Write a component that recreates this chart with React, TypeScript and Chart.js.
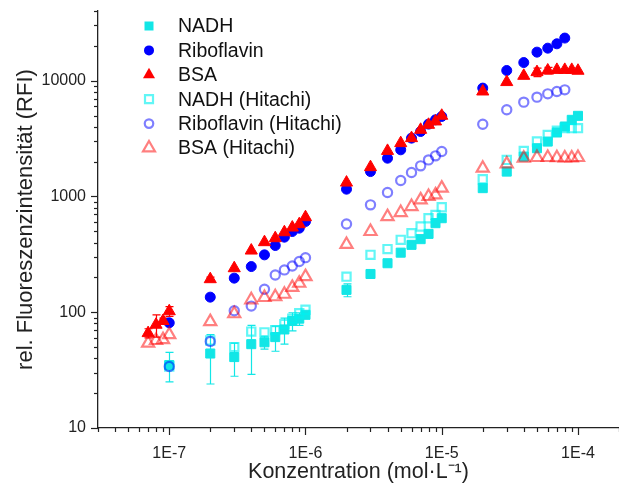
import React, { useEffect, useRef } from 'react';
import { Chart, registerables } from 'chart.js';

Chart.register(...registerables);

const FONT = "'Liberation Sans', Arial, Helvetica, sans-serif";

// ---------- data ----------
const concBSA = [7e-8, 8e-8, 9e-8, 1e-7, 2e-7, 3e-7, 4e-7, 5e-7, 6e-7, 7e-7, 8e-7, 9e-7, 1e-6, 2e-6, 3e-6, 4e-6, 5e-6, 6e-6, 7e-6, 8e-6, 9e-6, 1e-5, 2e-5, 3e-5, 4e-5, 5e-5, 6e-5, 7e-5, 8e-5, 9e-5, 1e-4];
const concNADH = [1e-7, 2e-7, 3e-7, 4e-7, 5e-7, 6e-7, 7e-7, 8e-7, 9e-7, 1e-6, 2e-6, 3e-6, 4e-6, 5e-6, 6e-6, 7e-6, 8e-6, 9e-6, 1e-5, 2e-5, 3e-5, 4e-5, 5e-5, 6e-5, 7e-5, 8e-5, 9e-5, 1e-4];
const concRibo = [1e-7, 2e-7, 3e-7, 4e-7, 5e-7, 6e-7, 7e-7, 8e-7, 9e-7, 1e-6, 2e-6, 3e-6, 4e-6, 5e-6, 6e-6, 7e-6, 8e-6, 9e-6, 1e-5, 2e-5, 3e-5, 4e-5, 5e-5, 6e-5, 7e-5, 8e-5];

const nadh = [35, 44, 41, 53, 55, 61, 71, 84, 88, 95, 156, 214, 265, 327, 382, 428, 475, 588, 649, 1180, 1640, 2210, 2610, 2980, 3570, 4020, 4590, 4970];
const nadhErr = [10, 20, 13, 24, 7, 15, 18, 15, 11, 6, 20, 0, 0, 0, 0, 0, 0, 0, 0, 0, 0, 0, 0, 0, 0, 0, 0, 0];
const ribo = [81, 135, 197, 248, 313, 377, 445, 498, 532, 608, 1156, 1641, 2141, 2529, 3191, 3640, 4217, 4592, 4910, 8630, 12250, 14350, 17650, 19100, 20830, 23350];
const bsa = [66, 78, 84, 102, 193, 240, 341, 403, 436, 491, 539, 576, 662, 1318, 1791, 2476, 2889, 3191, 3767, 4159, 4446, 4979, 8070, 9730, 11020, 11860, 12250, 12400, 12400, 12400, 12190];
const bsaErr = [6, 17, 5, 10, 8, 0, 0, 0, 0, 0, 0, 0, 0, 0, 0, 0, 0, 0, 0, 0, 0, 0, 0, 0, 0, 1000, 800, 0, 0, 0, 0];
const nadhH = [34, 57, 50, 68, 67, 70, 79, 88, 98, 105, 203, 313, 351, 422, 482, 550, 649, 693, 807, 1410, 2070, 2475, 2980, 3400, 3690, 3890, 3890, 3890];
const riboH = [34, 56, 103, 113, 158, 210, 232, 251, 274, 296, 579, 846, 1081, 1372, 1609, 1838, 2070, 2242, 2443, 4210, 5610, 6530, 7210, 7700, 8070, 8340];
const bsaH = [54, 57, 58, 64, 83, 97, 128, 134, 136, 143, 164, 178, 203, 385, 498, 670, 726, 818, 935, 999, 1032, 1180, 1755, 1913, 2140, 2170, 2170, 2160, 2150, 2150, 2170];

const xMajorTicks = [1e-7, 1e-6, 1e-5, 1e-4];
const xTickLabels = ['1E-7', '1E-6', '1E-5', '1E-4'];
const yMajorTicks = [10, 100, 1000, 10000];
const yTickLabels = ['10', '100', '1000', '10000'];
const xTitle = 'Konzentration (mol·L⁻¹)';
const yTitle = 'rel. Fluoreszenzintensität (RFI)';

const X_MIN = 3e-8;
const X_MAX = 2e-4;
const Y_MIN = 10;
const Y_MAX = 4e4;

const C_NADH = '#12E6E6';
const C_RIBO = '#0000FF';
const C_BSA = '#FF0000';
const C_NADH_H = 'rgba(0,240,240,0.62)';
const C_RIBO_H = 'rgba(0,0,255,0.5)';
const C_BSA_H = 'rgba(255,0,0,0.5)';

type Series = {
  label: string;
  x: number[];
  y: number[];
  err?: number[];
  style: 'rect' | 'circle' | 'triangle';
  color: string;
  filled: boolean;
  radius: number;
  order: number;
};

const seriesList: Series[] = [
  { label: 'NADH', x: concNADH, y: nadh, err: nadhErr, style: 'rect', color: C_NADH, filled: true, radius: 6.4, order: 6 },
  { label: 'Riboflavin', x: concRibo, y: ribo, style: 'circle', color: C_RIBO, filled: true, radius: 5, order: 5 },
  { label: 'BSA', x: concBSA, y: bsa, err: bsaErr, style: 'triangle', color: C_BSA, filled: true, radius: 7, order: 4 },
  { label: 'NADH (Hitachi)', x: concNADH, y: nadhH, style: 'rect', color: C_NADH_H, filled: false, radius: 5.8, order: 3 },
  { label: 'Riboflavin (Hitachi)', x: concRibo, y: riboH, style: 'circle', color: C_RIBO_H, filled: false, radius: 4.6, order: 2 },
  { label: 'BSA (Hitachi)', x: concBSA, y: bsaH, style: 'triangle', color: C_BSA_H, filled: false, radius: 7, order: 1 },
];

function logTicks(min: number, max: number) {
  const out: { value: number }[] = [];
  const e0 = Math.floor(Math.log10(min));
  const e1 = Math.ceil(Math.log10(max));
  for (let e = e0; e <= e1; e++) {
    for (let m = 1; m <= 9; m++) {
      const v = m * Math.pow(10, e);
      if (v >= min * 0.9999 && v <= max * 1.0001) out.push({ value: v });
    }
  }
  return out;
}

function majorIndex(v: number, majors: number[]) {
  return majors.findIndex((m) => Math.abs(v / m - 1) < 1e-6);
}

function drawMarker(ctx: CanvasRenderingContext2D, style: string, x: number, y: number, size: number, color: string, filled: boolean) {
  ctx.save();
  ctx.beginPath();
  if (style === 'rect') {
    const h = size / 2;
    ctx.rect(x - h, y - h, size, size);
  } else if (style === 'circle') {
    ctx.arc(x, y, size / 2, 0, Math.PI * 2);
  } else {
    const r = size / Math.sqrt(3);
    ctx.moveTo(x, y - r);
    ctx.lineTo(x + size / 2, y + r / 2);
    ctx.lineTo(x - size / 2, y + r / 2);
    ctx.closePath();
  }
  if (filled) {
    ctx.fillStyle = color;
    ctx.fill();
  } else {
    ctx.strokeStyle = color;
    ctx.lineWidth = 2.2;
    ctx.stroke();
  }
  ctx.restore();
}

const errorBarPlugin = {
  id: 'errorBars',
  beforeDatasetsDraw(chart: any) {
    const { ctx } = chart;
    const xs = chart.scales.x;
    const ys = chart.scales.y;
    ctx.save();
    seriesList.forEach((s) => {
      if (!s.err) return;
      ctx.strokeStyle = s.color;
      ctx.lineWidth = 1.2;
      s.y.forEach((v, i) => {
        const e = s.err![i];
        if (!e) return;
        const px = Math.round(xs.getPixelForValue(s.x[i])) + 0.5;
        const top = ys.getPixelForValue(v + e);
        const bot = ys.getPixelForValue(Math.max(v - e, 0.001));
        ctx.beginPath();
        ctx.moveTo(px, top);
        ctx.lineTo(px, bot);
        ctx.moveTo(px - 4, top);
        ctx.lineTo(px + 4, top);
        ctx.moveTo(px - 4, bot);
        ctx.lineTo(px + 4, bot);
        ctx.stroke();
      });
    });
    ctx.restore();
  },
};

const tickMarkPlugin = {
  id: 'tickMarks',
  afterDraw(chart: any) {
    const { ctx, chartArea } = chart;
    const xs = chart.scales.x;
    const ys = chart.scales.y;
    ctx.save();
    ctx.strokeStyle = '#222';
    ctx.lineWidth = 1.2;
    xs.ticks.forEach((t: any) => {
      const px = Math.round(xs.getPixelForValue(t.value)) + 0.5;
      const len = majorIndex(t.value, xMajorTicks) >= 0 ? 7 : 4;
      ctx.beginPath();
      ctx.moveTo(px, chartArea.bottom);
      ctx.lineTo(px, chartArea.bottom + len);
      ctx.stroke();
    });
    ys.ticks.forEach((t: any) => {
      const py = Math.round(ys.getPixelForValue(t.value)) + 0.5;
      const len = majorIndex(t.value, yMajorTicks) >= 0 ? 7 : 4;
      ctx.beginPath();
      ctx.moveTo(chartArea.left, py);
      ctx.lineTo(chartArea.left - len, py);
      ctx.stroke();
    });
    // axis titles
    ctx.fillStyle = '#222';
    ctx.textAlign = 'center';
    ctx.textBaseline = 'middle';
    ctx.font = `21.5px ${FONT}`;
    ctx.fillText(xTitle, (chartArea.left + chartArea.right) / 2, 472);
    ctx.save();
    ctx.translate(26, (chartArea.top + chartArea.bottom) / 2);
    ctx.rotate(-Math.PI / 2);
    ctx.font = `22px ${FONT}`;
    ctx.fillText(yTitle, 0, 0);
    ctx.restore();
    ctx.restore();
  },
};

const legendPlugin = {
  id: 'customLegend',
  afterDraw(chart: any) {
    const { ctx } = chart;
    ctx.save();
    ctx.font = `19.5px ${FONT}`;
    ctx.fillStyle = '#111';
    ctx.textBaseline = 'middle';
    ctx.textAlign = 'left';
    seriesList.forEach((s, i) => {
      const y = 26 + i * 24.4;
      const size = s.style === 'triangle' ? 12 : s.style === 'circle' ? (s.filled ? 10 : 8.5) : (s.filled ? 9 : 8);
      drawMarker(ctx, s.style, 149, y, size, s.color, s.filled);
      ctx.fillText(s.label, 178, y + 1);
    });
    ctx.restore();
  },
};

function zeroPadding(scale: any) {
  scale.paddingTop = 0;
  scale.paddingBottom = 0;
  scale.paddingLeft = 0;
  scale.paddingRight = 0;
}

export default function App() {
  const canvasRef = useRef<HTMLCanvasElement | null>(null);

  useEffect(() => {
    const canvas = canvasRef.current;
    if (!canvas) return;
    const datasets = seriesList.map((s) => ({
      label: s.label,
      data: s.x.map((xv, i) => ({ x: xv, y: s.y[i] })),
      showLine: false,
      pointStyle: s.style,
      pointRadius: s.radius,
      pointHoverRadius: s.radius,
      pointBackgroundColor: s.filled ? s.color : 'rgba(0,0,0,0)',
      pointBorderColor: s.color,
      pointBorderWidth: s.filled ? 1 : 2.2,
      order: s.order,
    }));

    const chart = new Chart(canvas, {
      type: 'scatter',
      data: { datasets },
      plugins: [errorBarPlugin, tickMarkPlugin, legendPlugin],
      options: {
        animation: false,
        responsive: true,
        maintainAspectRatio: false,
        devicePixelRatio: 1,
        layout: { autoPadding: false, padding: { top: 11, right: 0, left: 0, bottom: 0 } },
        plugins: { legend: { display: false }, tooltip: { enabled: false } },
        scales: {
          x: {
            type: 'logarithmic',
            min: X_MIN,
            max: X_MAX,
            afterBuildTicks: (scale: any) => {
              scale.ticks = logTicks(X_MIN, X_MAX);
            },
            afterFit: (scale: any) => {
              scale.height = 66;
              zeroPadding(scale);
            },
            grid: { display: false, drawTicks: false },
            border: { display: true, color: '#222', width: 1.3 },
            ticks: {
              autoSkip: false,
              maxRotation: 0,
              padding: 16,
              color: '#222',
              font: { family: FONT, size: 16 },
              callback: (v: any) => {
                const i = majorIndex(Number(v), xMajorTicks);
                return i >= 0 ? xTickLabels[i] : '';
              },
            },
            title: { display: false },
          },
          y: {
            type: 'logarithmic',
            min: Y_MIN,
            max: Y_MAX,
            afterBuildTicks: (scale: any) => {
              scale.ticks = logTicks(Y_MIN, Y_MAX);
            },
            afterFit: (scale: any) => {
              scale.width = 98;
              zeroPadding(scale);
            },
            grid: { display: false, drawTicks: false },
            border: { display: true, color: '#222', width: 1.3 },
            ticks: {
              autoSkip: false,
              padding: 12,
              color: '#222',
              font: { family: FONT, size: 16 },
              callback: (v: any) => {
                const i = majorIndex(Number(v), yMajorTicks);
                return i >= 0 ? yTickLabels[i] : '';
              },
            },
            title: { display: false },
          },
        },
      },
    });
    return () => chart.destroy();
  }, []);

  return (
    <div style={{ position: 'absolute', left: 0, top: 0, width: 619, height: 494, background: '#fff' }}>
      <canvas ref={canvasRef} />
    </div>
  );
}
